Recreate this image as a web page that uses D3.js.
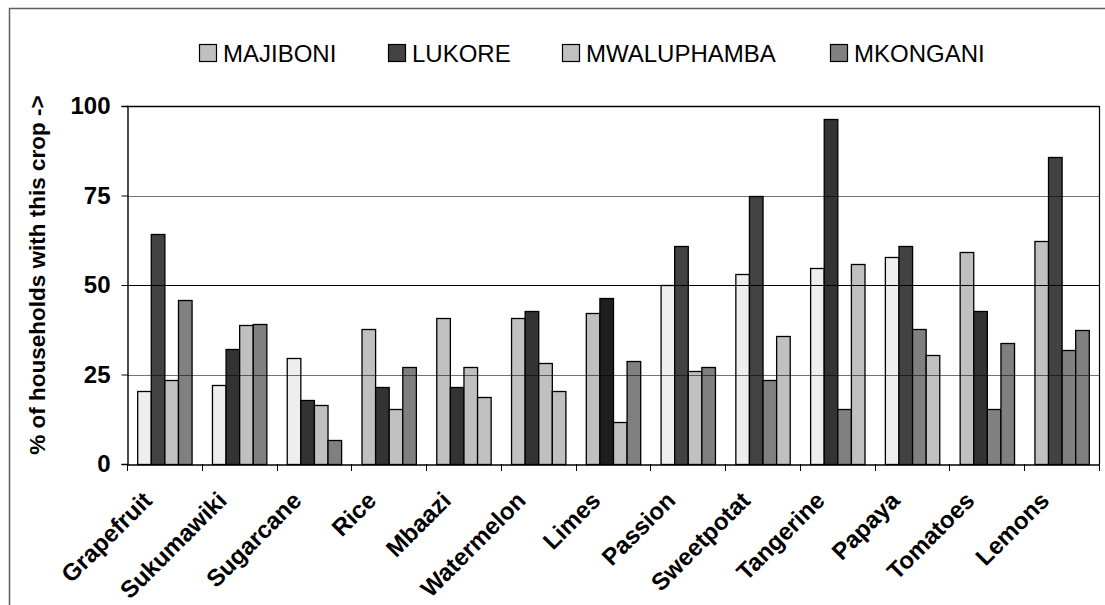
<!DOCTYPE html>
<html>
<head>
<meta charset="utf-8">
<script src="https://cdn.jsdelivr.net/npm/d3@7"></script>
<style>
  html, body { margin: 0; padding: 0; background: #fff; }
  svg { display: block; font-family: "Liberation Sans", Arial, sans-serif; }
</style>
</head>
<body>
<svg id="chart" width="1105" height="605"></svg>
<script>
// ---- data ----
const categories = ["Grapefruit", "Sukumawiki", "Sugarcane", "Rice", "Mbaazi", "Watermelon", "Limes",
  "Passion", "Sweetpotat", "Tangerine", "Papaya", "Tomatoes", "Lemons"];
const seriesNames = ["MAJIBONI", "LUKORE", "MWALUPHAMBA", "MKONGANI"];
const majiboni    = [20.4, 22.0, 29.7, 37.6, 40.7, 40.7, 42.3, 50.0, 53.2, 54.7, 57.9, 59.3, 62.4];
const lukore      = [64.2, 32.2, 17.9, 21.4, 21.4, 42.8, 46.4, 60.8, 74.9, 96.4, 60.8, 42.8, 85.8];
const mwaluphamba = [23.5, 38.8, 16.6, 15.3, 27.2, 28.3, 11.8, 26.0, 23.5, 15.3, 37.6, 15.3, 31.8];
const mkongani    = [45.7, 39.0,  6.8, 27.2, 18.8, 20.4, 28.9, 27.2, 35.8, 56.0, 30.5, 33.9, 37.3];
const yTicks = [0, 25, 50, 75, 100];
const yTitle = "% of households with this crop ->";

// ---- styles (per-bar shade as drawn in the source picture) ----
const shadeColor = { L: "#eeeeee", S: "#c0c0c0", G: "#808080", D: "#424242", K: "#333333", B: "#1e1e1e" };
const legendShade = ["S", "D", "S", "G"];
const barShade = [
  ["L","D","S","G"], ["L","K","S","G"], ["L","K","S","G"], ["S","K","S","G"],
  ["S","K","S","S"], ["S","K","S","S"], ["S","B","S","G"], ["L","D","S","G"],
  ["L","D","G","S"], ["L","K","G","S"], ["L","D","G","S"], ["S","K","G","G"],
  ["S","D","G","G"]
];

(function () {
const values = [majiboni, lukore, mwaluphamba, mkongani];
const rows = categories.map((c, i) => ({ cat: c, vals: values.map((s, j) => ({ key: seriesNames[j], v: s[i], shade: barShade[i][j] })) }));

const svg = d3.select("#chart");
const pL = 127, pR = 1099, pT = 106, pB = 464;

// outer frame
svg.append("rect").attr("x", 9.5).attr("y", 8.5).attr("width", 1110).attr("height", 620)
  .attr("fill", "none").attr("stroke", "#606060").attr("stroke-width", 1.5);

const x = d3.scaleBand().domain(categories).range([pL, pR]).paddingInner(0).paddingOuter(0);
const innerPad = (1.5 / 5.5) / 2;
const x1 = d3.scaleBand().domain(seriesNames).range([x.bandwidth() * innerPad, x.bandwidth() * (1 - innerPad)]);
const y = d3.scaleLinear().domain([0, 100]).range([pB, pT]);

// bars
svg.append("g").selectAll("g.cat").data(rows).join("g").attr("class", "cat")
  .attr("transform", d => `translate(${x(d.cat)},0)`)
  .selectAll("rect").data(d => d.vals).join("rect")
  .attr("x", d => x1(d.key) + 0.5)
  .attr("width", x1.bandwidth())
  .attr("y", d => Math.round(y(d.v)) + 0.5)
  .attr("height", d => pB - Math.round(y(d.v)))
  .attr("fill", d => shadeColor[d.shade])
  .attr("stroke", "#000").attr("stroke-width", 1.3);

// gridlines drawn over bars
svg.append("g").selectAll("line").data(yTicks.filter(t => t > 0)).join("line")
  .attr("x1", pL).attr("x2", pR)
  .attr("y1", d => Math.round(y(d)) + 0.5).attr("y2", d => Math.round(y(d)) + 0.5)
  .attr("stroke", "#000")
  .attr("stroke-opacity", d => (d === 50 || d === 100) ? 1 : 0.55)
  .attr("stroke-width", d => d === 100 ? 1.6 : 1.2);

// right border of plot
svg.append("line").attr("x1", pR + 0.5).attr("x2", pR + 0.5).attr("y1", pT).attr("y2", pB)
  .attr("stroke", "#000").attr("stroke-width", 1.2);

// y axis
const yAxis = svg.append("g").attr("transform", `translate(${pL + 0.5},0)`)
  .call(d3.axisLeft(y).tickValues(yTicks).tickSize(6).tickPadding(11).tickFormat(d3.format("d")));
yAxis.select(".domain").attr("stroke", "#000").attr("stroke-width", 1.4);
yAxis.selectAll(".tick line").attr("stroke", "#000");
yAxis.selectAll(".tick text").attr("font-size", 24).attr("font-weight", "bold").attr("fill", "#000")
  .attr("font-family", "Liberation Sans, Arial, sans-serif");

// x axis
const xAxis = svg.append("g").attr("transform", `translate(0,${pB + 0.5})`)
  .call(d3.axisBottom(x).tickSize(0).tickFormat(""));
xAxis.select(".domain").attr("stroke", "#000").attr("stroke-width", 1.4);
xAxis.selectAll(".tick").remove();
// tick marks at category boundaries
const bounds = categories.map(c => x(c)).concat([pR]);
svg.append("g").selectAll("line").data(bounds).join("line")
  .attr("x1", d => Math.round(d) + 0.5).attr("x2", d => Math.round(d) + 0.5)
  .attr("y1", pB).attr("y2", pB + 7)
  .attr("stroke", "#000").attr("stroke-width", 1);

// x labels rotated
svg.append("g").selectAll("text").data(categories).join("text")
  .attr("transform", d => `translate(${x(d) + x.bandwidth() / 2 - 11},${pB + 38}) rotate(-45)`)
  .attr("text-anchor", "end")
  .attr("font-size", 24).attr("font-weight", "bold").attr("fill", "#000")
  .text(d => d);

// y title
svg.append("text")
  .attr("transform", `translate(45,${(pT + pB) / 2 - 10}) rotate(-90)`)
  .attr("text-anchor", "middle")
  .attr("font-size", 22.5).attr("font-weight", "bold").attr("fill", "#000")
  .text(yTitle);

// legend
const legendX = [199, 388, 562, 830];
const lg = svg.append("g").selectAll("g").data(seriesNames).join("g")
  .attr("transform", (d, i) => `translate(${legendX[i]},44)`);
lg.append("rect").attr("x", 0.5).attr("y", 0.5).attr("width", 17).attr("height", 17)
  .attr("fill", (d, i) => shadeColor[legendShade[i]]).attr("stroke", "#000").attr("stroke-width", 1.2);
lg.append("text").attr("x", 24).attr("y", 18)
  .attr("font-size", 24).attr("fill", "#000").text(d => d);
})();
</script>
</body>
</html>
